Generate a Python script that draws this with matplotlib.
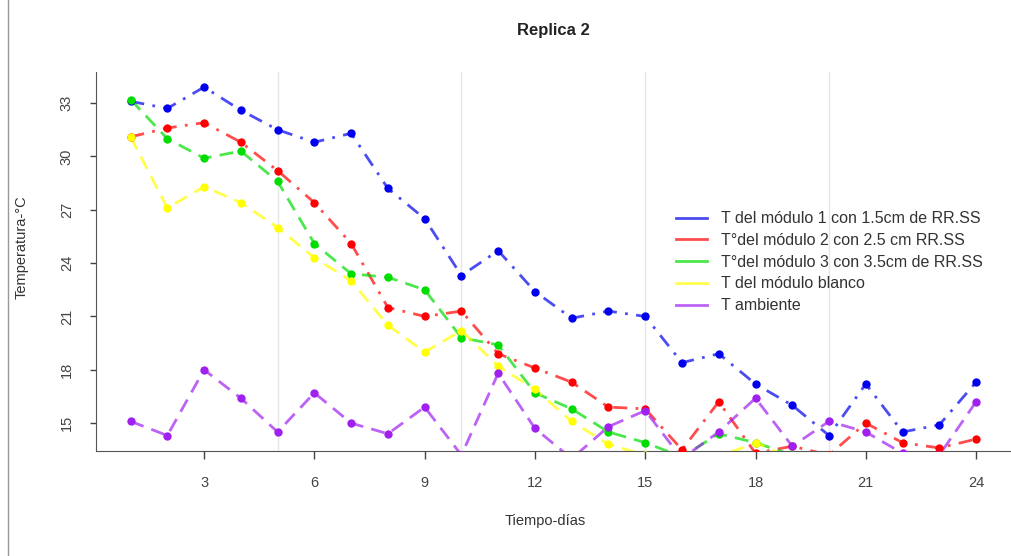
import numpy as np
import matplotlib.pyplot as plt
from matplotlib.lines import Line2D

plt.rcParams['font.family'] = ['Liberation Sans', 'DejaVu Sans']

dias = np.arange(1, 25)

t_mod1 = [33.1, 32.7, 33.9, 32.6, 31.5, 30.8, 31.3, 28.2, 26.5, 23.3, 24.7, 22.4,
          20.9, 21.3, 21.0, 18.4, 18.9, 17.2, 16.0, 14.3, 17.2, 14.5, 14.9, 17.3]
t_mod2 = [31.1, 31.6, 31.9, 30.8, 29.2, 27.4, 25.1, 21.5, 21.0, 21.3, 18.9, 18.1,
          17.3, 15.9, 15.8, 13.5, 16.2, 13.3, 13.7, 13.2, 15.0, 13.9, 13.6, 14.1]
t_mod3 = [33.2, 31.0, 29.9, 30.3, 28.6, 25.1, 23.4, 23.2, 22.5, 19.8, 19.4, 16.7,
          15.8, 14.5, 13.9, 13.1, 14.4, 13.9, 13.2, 13.0, 13.1, 13.0, 12.9, 13.0]
t_blanco = [31.1, 27.1, 28.3, 27.4, 26.0, 24.3, 23.0, 20.5, 19.0, 20.2, 18.2, 16.9,
            15.1, 13.8, 13.2, 13.0, 13.1, 13.9, 13.0, 12.9, 13.0, 12.9, 12.8, 12.9]
t_amb = [15.1, 14.3, 18.0, 16.4, 14.5, 16.7, 15.0, 14.4, 15.9, 13.2, 17.8, 14.7,
         13.0, 14.8, 15.7, 13.0, 14.5, 16.4, 13.7, 15.1, 14.5, 13.3, 13.2, 16.2]

series = [
    (t_mod1, '#0000EE', (0, (5, 3, 1, 3)), 'T del módulo 1 con 1.5cm de RR.SS'),
    (t_mod2, '#FF0000', (0, (5, 3, 1, 3)), 'T°del módulo 2 con 2.5 cm RR.SS'),
    (t_mod3, '#00DD00', (0, (5, 3)), 'T°del módulo 3 con 3.5cm de RR.SS'),
    (t_blanco, '#FFFF00', (0, (5, 3)), 'T del módulo blanco'),
    (t_amb, '#A020F0', (0, (5, 3)), 'T ambiente'),
]

fig = plt.figure(figsize=(10.11, 5.56), dpi=100)
ax = fig.add_axes([96 / 1011, 1 - 451 / 556, 1 - 96 / 1011, (451 - 72) / 556])

for x in [5, 10, 15, 20]:
    ax.axvline(x, color='#e6e6e6', lw=1, zorder=0)

for vals, col, ls, lab in series:
    ax.plot(dias, vals, color=col, ls=ls, lw=2, alpha=0.7, zorder=2)
    ax.plot(dias, vals, 'o', color=col, ms=6, mec='none', zorder=3)

ax.set_xlim(0.06, 24.95)
ax.set_ylim(13.43, 34.75)
ax.set_xticks([3, 6, 9, 12, 15, 18, 21, 24])
ax.set_yticks([15, 18, 21, 24, 27, 30, 33])
ax.tick_params(axis='x', length=6, width=1, colors='#444444', labelsize=10.5, pad=12)
ax.tick_params(axis='y', length=4, width=1, colors='#444444', labelsize=10.5, pad=12,
               labelrotation=90)
for t in ax.get_yticklabels():
    t.set_verticalalignment('center')
ax.spines['top'].set_visible(False)
ax.spines['right'].set_visible(False)
ax.spines['left'].set_color('#555555')
ax.spines['bottom'].set_color('#555555')

handles = [Line2D([], [], color=c, lw=2, alpha=0.7) for _, c, _, _ in series]
ax.legend(handles, [s[3] for s in series], loc='upper left',
          bbox_to_anchor=((662 - 96) / (1011 - 96), (451 - 197) / (451 - 72)),
          frameon=False, fontsize=11.5, handlelength=1.9, handletextpad=0.9,
          labelspacing=0.42, labelcolor='#333333')

fig.text(553 / 1011, 1 - 31 / 556, 'Replica 2', ha='center', va='center',
         fontsize=12, fontweight='bold', color='#222222')
fig.text(545 / 1011, 1 - 521 / 556, 'Tiempo-días', ha='center', va='center',
         fontsize=10.5, color='#333333')
fig.text(22 / 1011, 1 - 247 / 556, 'Temperatura-°C', ha='center', va='center',
         rotation=90, fontsize=10.5, color='#333333')

fig.add_artist(Line2D([8 / 1011, 8 / 1011], [0, 1], color='#999999', lw=1))

fig.savefig('out.png', dpi=100)
